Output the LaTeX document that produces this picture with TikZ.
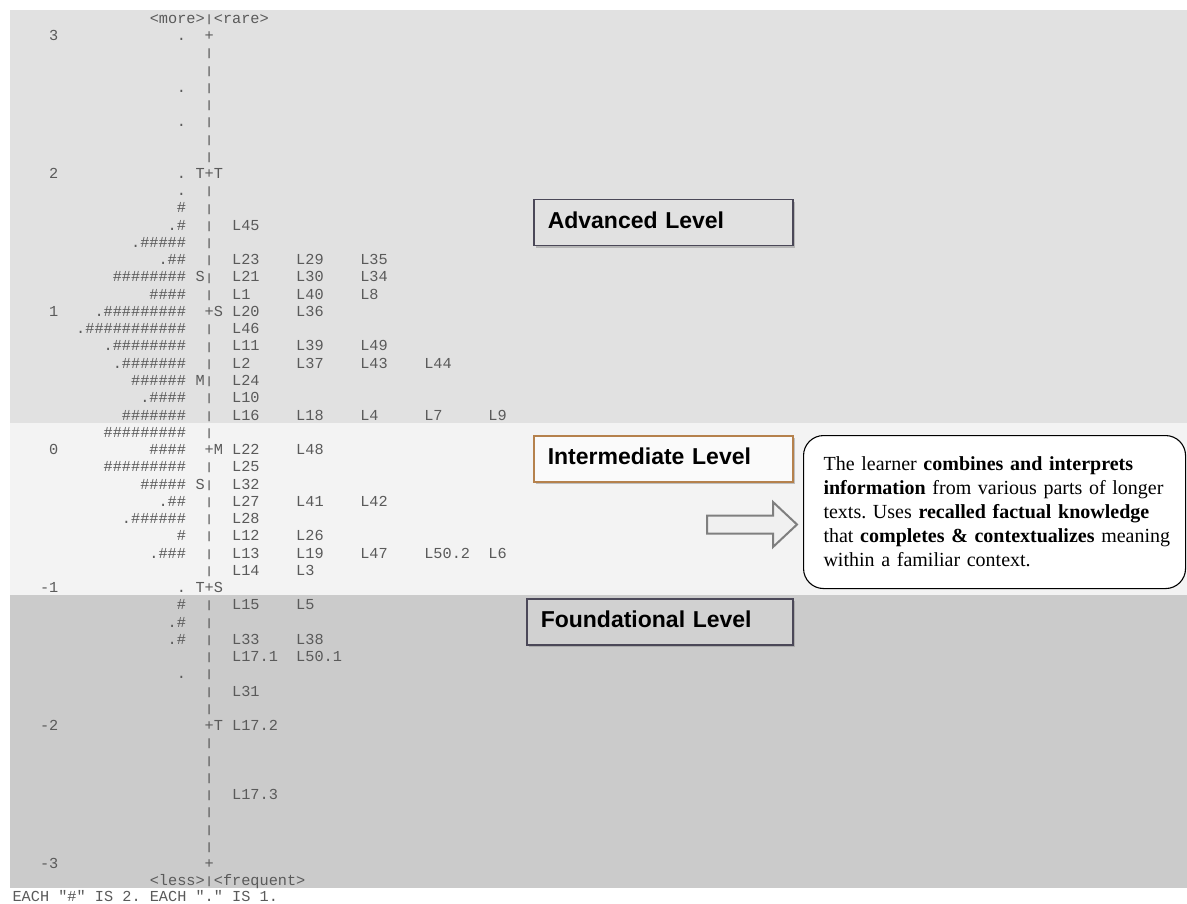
\documentclass[tikz,border=0pt]{standalone}
\usepackage{fontspec}
\usepackage{graphicx}
\setmonofont{Liberation Mono}
\newfontfamily\levelfont{Liberation Sans}
\newfontfamily\notefont{Liberation Serif}
\usetikzlibrary{shadows}

\definecolor{bandhigh}{HTML}{E1E1E1}
\definecolor{bandmid}{HTML}{F3F3F3}
\definecolor{bandlow}{HTML}{CBCBCB}
\definecolor{mapink}{HTML}{5A5A5A}
\definecolor{darkframe}{HTML}{4B4858}
\definecolor{copperframe}{HTML}{B5814C}
\definecolor{arrowline}{HTML}{7F7F7F}
\definecolor{arrowfill}{HTML}{F0F0F0}

\tikzset{
  mapcell/.style={font=\ttfamily\fontsize{15.25}{17}\selectfont, text=mapink,
    inner sep=0pt, anchor=base west},
  levelbox/.style={draw, line width=1.5pt, anchor=north west, align=left,
    font=\levelfont\bfseries\fontsize{23}{27}\selectfont,
    inner xsep=14pt, inner ysep=0pt, minimum height=46pt,
    text height=17pt, text depth=5pt,
    drop shadow={shadow xshift=2.5pt, shadow yshift=-2.5pt, fill=black!45}},
  notebox/.style={draw=black, line width=1.1pt, fill=white, rounded corners=20pt,
    anchor=north west, align=left, inner xsep=20pt, inner ysep=0pt,
    font=\notefont\fontsize{20}{24}\selectfont\frenchspacing,
    text width=342pt, minimum height=153pt},
  blockarrow/.style={draw=arrowline, fill=arrowfill, line width=2pt, line join=miter}
}

% short vertical bar of the map axis
\newcommand\axisbar{\raisebox{0.8pt}{\scalebox{1}[0.7]{|}}}
% one cell of the variable map: name, column (axis = 0), row, text
\newcommand\cell[4]{%
  \node[mapcell] (#1) at ({204.525+9.15*(#2)}, {40.5+17.25*(#3)}) {#4};}
% persons (right-aligned against column -3) and the axis marker of a row
\newcommand\maprow[4]{%
  \ifx\relax#2\relax\else
    \node[mapcell, anchor=base east] (p#1) at (186.225, {40.5+17.25*(#1)}) {#2};
  \fi
  \cell{m#1}{#3}{#1}{#4}}
% items of a row, in fields seven characters wide
\newcommand\mapitems[2]{%
  \foreach \itm [count=\k] in {#2} {
    \node[mapcell] (i#1-\k) at ({204.525+9.15*(3+7*(\k-1))}, {40.5+17.25*(#1)}) {\itm};
  }}

\begin{document}
\begin{tikzpicture}[x=1pt, y=-1pt]
\useasboundingbox (0,0) rectangle (1187,904);

% level bands
\fill[bandhigh] (10,10) rectangle (1187,423);
\fill[bandmid] (10,423) rectangle (1187,595);
\fill[bandlow] (10,595) rectangle (1187,888);

% column headings
\cell{headtop}{-6}{-1}{<more>\axisbar<rare>}
\cell{headbottom}{-6}{49}{<less>\axisbar<frequent>}

% logit scale
\cell{s3}{-17}{0}{3}
\cell{s2}{-17}{8}{2}
\cell{s1}{-17}{16}{1}
\cell{s0}{-17}{24}{0}
\cell{sm1}{-18}{32}{-1}
\cell{sm2}{-18}{40}{-2}
\cell{sm3}{-18}{48}{-3}

% persons | axis | items
\maprow{0}{.}{0}{+}
\maprow{1}{}{0}{\axisbar}
\maprow{2}{}{0}{\axisbar}
\maprow{3}{.}{0}{\axisbar}
\maprow{4}{}{0}{\axisbar}
\maprow{5}{.}{0}{\axisbar}
\maprow{6}{}{0}{\axisbar}
\maprow{7}{}{0}{\axisbar}
\maprow{8}{.}{-1}{T+T}
\maprow{9}{.}{0}{\axisbar}
\maprow{10}{\#}{0}{\axisbar}
\maprow{11}{.\#}{0}{\axisbar}                 \mapitems{11}{L45}
\maprow{12}{.\#\#\#\#\#}{0}{\axisbar}
\maprow{13}{.\#\#}{0}{\axisbar}               \mapitems{13}{L23,L29,L35}
\maprow{14}{\#\#\#\#\#\#\#\#}{-1}{S\axisbar}  \mapitems{14}{L21,L30,L34}
\maprow{15}{\#\#\#\#}{0}{\axisbar}            \mapitems{15}{L1,L40,L8}
\maprow{16}{.\#\#\#\#\#\#\#\#\#}{0}{+S}       \mapitems{16}{L20,L36}
\maprow{17}{.\#\#\#\#\#\#\#\#\#\#\#}{0}{\axisbar} \mapitems{17}{L46}
\maprow{18}{.\#\#\#\#\#\#\#\#}{0}{\axisbar}   \mapitems{18}{L11,L39,L49}
\maprow{19}{.\#\#\#\#\#\#\#}{0}{\axisbar}     \mapitems{19}{L2,L37,L43,L44}
\maprow{20}{\#\#\#\#\#\#}{-1}{M\axisbar}      \mapitems{20}{L24}
\maprow{21}{.\#\#\#\#}{0}{\axisbar}           \mapitems{21}{L10}
\maprow{22}{\#\#\#\#\#\#\#}{0}{\axisbar}      \mapitems{22}{L16,L18,L4,L7,L9}
\maprow{23}{\#\#\#\#\#\#\#\#\#}{0}{\axisbar}
\maprow{24}{\#\#\#\#}{0}{+M}                  \mapitems{24}{L22,L48}
\maprow{25}{\#\#\#\#\#\#\#\#\#}{0}{\axisbar}  \mapitems{25}{L25}
\maprow{26}{\#\#\#\#\#}{-1}{S\axisbar}        \mapitems{26}{L32}
\maprow{27}{.\#\#}{0}{\axisbar}               \mapitems{27}{L27,L41,L42}
\maprow{28}{.\#\#\#\#\#\#}{0}{\axisbar}       \mapitems{28}{L28}
\maprow{29}{\#}{0}{\axisbar}                  \mapitems{29}{L12,L26}
\maprow{30}{.\#\#\#}{0}{\axisbar}             \mapitems{30}{L13,L19,L47,L50.2,L6}
\maprow{31}{}{0}{\axisbar}                    \mapitems{31}{L14,L3}
\maprow{32}{.}{-1}{T+S}
\maprow{33}{\#}{0}{\axisbar}                  \mapitems{33}{L15,L5}
\maprow{34}{.\#}{0}{\axisbar}
\maprow{35}{.\#}{0}{\axisbar}                 \mapitems{35}{L33,L38}
\maprow{36}{}{0}{\axisbar}                    \mapitems{36}{L17.1,L50.1}
\maprow{37}{.}{0}{\axisbar}
\maprow{38}{}{0}{\axisbar}                    \mapitems{38}{L31}
\maprow{39}{}{0}{\axisbar}
\maprow{40}{}{0}{+T}                          \mapitems{40}{L17.2}
\maprow{41}{}{0}{\axisbar}
\maprow{42}{}{0}{\axisbar}
\maprow{43}{}{0}{\axisbar}
\maprow{44}{}{0}{\axisbar}                    \mapitems{44}{L17.3}
\maprow{45}{}{0}{\axisbar}
\maprow{46}{}{0}{\axisbar}
\maprow{47}{}{0}{\axisbar}
\maprow{48}{}{0}{+}

% legend line under the map
\node[mapcell] (legend) at ({204.525+9.15*(-21)}, 901.5) {EACH "\#" IS 2. EACH "." IS 1.};

% level labels
\node[levelbox, draw=darkframe, fill=bandhigh, text width=231pt] (advanced) at (533,199) {Advanced Level};
\node[levelbox, draw=copperframe, fill=white!60!bandmid, text width=231pt] (intermediate) at (533,435) {Intermediate Level};
\node[levelbox, draw=darkframe, fill=black!18, text width=238pt] (foundational) at (526,598) {Foundational Level};

% description of the intermediate level
\node[notebox] (note) at (803,435) {\mbox{The learner \textbf{combines and interprets}}\\
\mbox{\textbf{information} from various parts of longer}\\
\mbox{texts. Uses \textbf{recalled factual knowledge}}\\
\mbox{that \textbf{completes \& contextualizes} meaning}\\
\mbox{within a familiar context.}};

% hollow block arrow pointing at the description
\coordinate (arrowtail) at (707,524.5);
\coordinate (arrowtip) at (797,524.5);
\draw[blockarrow] (arrowtail) ++(0,-9) -- ++(66,0) -- ++(0,-13.5) -- (arrowtip)
  -- ++(-24,22.5) -- ++(0,-13.5) -- ++(-66,0) -- cycle;
\end{tikzpicture}
\end{document}
